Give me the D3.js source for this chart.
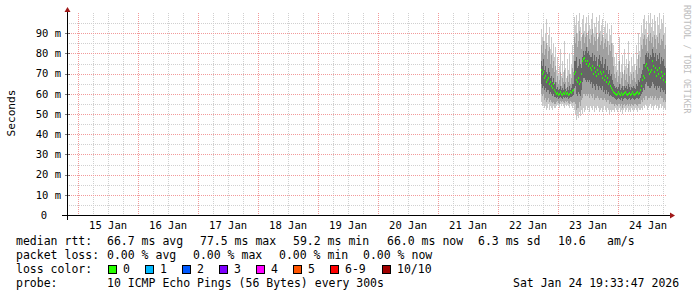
<!DOCTYPE html>
<html>
<head>
<meta charset="utf-8">
<script src="https://cdn.jsdelivr.net/npm/d3@7"></script>
<style>
  html, body { margin: 0; padding: 0; background: #fff; }
  text { font-family: "DejaVu Sans Mono", monospace; }
</style>
</head>
<body>
<div id="chart"></div>
<script>
// one value per 1440 s step (one pixel column); first step is Jan 22 ~16:57
var stepSec = 1440;
var firstStep = Date.UTC(2026, 0, 14, 19, 33, 47) + 474 * stepSec * 1000;

// median rtt (ms)
var medRtt = [
  72, 70, 71, 68, 69, 66, 67, 68, 65, 66, 64, 63, 65, 62, 61,
  60, 60.5, 59.5, 60, 61, 60, 59.5, 60.5, 60, 61, 60, 60.5, 59.5, 60, 61, 60.5, 61.5, 62,
  70, 71, 67, 66, 68, 65, 66, 70, 76, 77, 77.5, 76, 75, 76, 74, 75, 73, 72, 74, 70, 73, 71,
  69, 72, 70, 74, 71, 70, 68, 71, 67, 69, 66, 68, 65, 66, 64, 63, 62,
  61, 60.5, 60, 59.5, 60, 61, 60, 59.5, 60.5, 59.2, 60, 60.5, 61, 60, 59.5, 60, 60.5, 59.5,
  60, 61, 60, 59.5, 60, 60.5, 61, 60, 60.5, 62,
  64, 67, 69, 68, 74, 75, 73, 72, 70, 71, 72, 76, 74, 71, 73, 69, 72, 70, 73, 68, 71, 69, 67, 70, 66];

// smoke: ping spread per step (ms), outer -> inner
var smokeHi = [
  92, 88, 95, 86, 90, 97, 84, 89, 93, 82, 88, 80, 85, 78, 83,
  72, 78, 70, 74, 82, 69, 76, 71, 86, 73, 68, 77, 72, 80, 70, 75, 84, 79,
  98, 94, 99, 90, 96, 100, 93, 88, 97, 99, 91, 95, 98, 89, 99, 94, 92, 97, 100, 90,
  95, 93, 98, 87, 96, 99, 91, 94, 97, 88, 93, 96, 90, 95, 86, 92, 89, 94, 85,
  84, 78, 74, 80, 72, 76, 88, 71, 75, 79, 70, 82, 74, 77, 73, 86, 76, 71, 78, 74,
  80, 75, 72, 84, 77, 90, 81, 88,
  94, 90, 97, 99, 92, 96, 88, 99, 95, 100, 93, 97, 91, 99, 96, 89, 98, 94, 100, 92, 97, 95, 99, 90, 93];
var smokeHi2 = [
  84, 80, 86, 79, 82, 85, 77, 81, 83, 75, 79, 73, 76, 71, 74,
  66, 69, 65, 67, 71, 64, 68, 66, 72, 66, 63, 69, 66, 70, 65, 68, 73, 71,
  88, 85, 90, 83, 86, 91, 86, 82, 89, 90, 85, 88, 90, 83, 91, 87, 85, 89, 92, 84,
  88, 86, 90, 81, 88, 90, 84, 86, 89, 82, 85, 87, 83, 86, 79, 84, 81, 85, 78,
  74, 70, 68, 71, 66, 69, 76, 65, 68, 71, 64, 72, 67, 70, 66, 75, 69, 65, 70, 67,
  71, 68, 66, 74, 70, 79, 73, 78,
  84, 82, 87, 89, 84, 87, 81, 89, 86, 90, 85, 88, 83, 89, 87, 82, 88, 85, 90, 84, 87, 86, 89, 82, 84];
var smokeQ3 = [
  76, 74, 77, 72, 74, 71, 70, 73, 71, 68, 69, 66, 68, 65, 66,
  62.5, 63.5, 62, 62.5, 64, 62, 63, 62, 65, 62.5, 61.5, 63.5, 62, 64, 62, 63, 65, 65,
  76, 76, 78, 73, 74, 77, 75, 73, 78, 81, 79, 81, 83, 80, 81, 79, 78, 78, 80, 76,
  79, 76, 78, 74, 77, 79, 76, 75, 78, 73, 75, 77, 72, 74, 70, 72, 69, 70, 67,
  65, 64, 63, 63.5, 62.5, 63.5, 65, 62, 63, 64, 62, 64, 63, 64, 62.5, 65, 63.5, 62, 63.5, 63,
  64, 63, 62.5, 65, 64, 67, 66, 68,
  70, 72, 75, 75, 79, 80, 78, 80, 77, 79, 78, 82, 80, 78, 80, 76, 79, 77, 80, 75, 78, 76, 77, 74, 73];
var smokeQ1 = [
  65, 63, 64, 62, 63, 61, 62, 62, 60, 61, 60, 59, 60, 58.5, 58.5,
  58, 58.5, 57.5, 58, 58.5, 58, 57.5, 58.5, 58, 58.5, 58, 58.5, 57.5, 58, 58.5, 58.5, 59, 59.5,
  63, 64, 60, 59, 61, 60, 59, 62, 66, 68, 68, 67, 66, 67, 66, 67, 65, 66, 63, 65,
  64, 62, 65, 64, 62, 64, 63, 62, 64, 61, 62, 60, 62, 60, 61, 59, 59.5, 59, 58.5,
  58.5, 58, 57.5, 57, 57.5, 58, 57.5, 57, 58, 56.5, 57.5, 58, 58, 57.5, 57, 57.5, 58, 57, 57.5, 58,
  57.5, 57, 57.5, 58, 58, 57.5, 58, 59,
  60, 61, 63, 62, 65, 66, 64, 64, 63, 63, 64, 66, 65, 63, 64, 62, 64, 63, 64, 61, 63, 62, 61, 62, 60];
var smokeLo2 = [
  60, 59, 60, 57, 58, 56, 57, 58, 56, 57, 56, 55.5, 56, 55, 55,
  56, 56.5, 55.5, 55, 56.5, 56, 56.5, 56, 55.5, 56.5, 56, 56.5, 55.5, 55, 56.5, 56, 55.5, 56,
  56, 55, 52, 53, 53, 56, 54, 57, 58, 60, 60, 59, 60, 59, 60, 58, 60, 59, 58, 60,
  57, 58, 58, 59, 58, 57, 58, 58, 57, 57, 58, 57, 56, 57, 57, 55, 56, 55, 55,
  55, 54, 55, 54.5, 54, 55, 55, 54, 55, 53, 54.5, 55, 54, 54.5, 55, 54, 55, 54, 55, 54.5,
  54, 55, 55, 54.5, 54, 55, 55, 55,
  57, 56, 58, 57, 59, 59, 57, 58, 58, 59, 58, 59, 57, 58, 59, 57, 58, 57, 58, 59, 58, 58, 56, 57, 56];
var smokeLo = [
  56, 54, 55, 53, 54, 52, 53, 55, 52, 54, 53, 52, 54, 53, 53,
  54, 55, 54, 53, 55, 54, 55, 54, 53, 55, 54, 55, 54, 53, 55, 54, 53, 54,
  52, 50, 47, 49, 48, 51, 49, 52, 50, 53, 51, 52, 54, 52, 53, 51, 54, 53, 52, 54,
  51, 53, 52, 54, 53, 51, 52, 53, 51, 52, 54, 52, 51, 53, 52, 50, 52, 51, 52,
  52, 51, 53, 52, 51, 52, 53, 51, 52, 50, 52, 53, 51, 52, 53, 51, 52, 51, 53, 52,
  51, 52, 53, 52, 51, 53, 52, 52,
  53, 52, 54, 53, 55, 54, 52, 53, 54, 55, 53, 54, 52, 54, 55, 53, 54, 52, 53, 55, 53, 54, 52, 53, 52];

var yTicks = [0, 10, 20, 30, 40, 50, 60, 70, 80, 90];

var statsRtt = ["66.7 ms avg", "77.5 ms max", "59.2 ms min", "66.0 ms now", "6.3 ms sd", "10.6", "am/s"];
var statsLoss = ["0.00 % avg", "0.00 % max", "0.00 % min", "0.00 % now"];
var lossLabels = ["0", "1", "2", "3", "4", "5", "6-9", "10/10"];
var lossColors = ["#26ff00", "#00b8ff", "#0059ff", "#7e00ff", "#ff00ff", "#ff5500", "#ff0000", "#a10000"];
var probeText = "10 ICMP Echo Pings (56 Bytes) every 300s";
var stampText = "Sat Jan 24 19:33:47 2026";

var width = 697, height = 297;
var t0 = new Date(Date.UTC(2026, 0, 14, 19, 33, 47)),
  t1 = new Date(Date.UTC(2026, 0, 24, 19, 33, 47));
var step = stepSec * 1000;

var svg = d3.select("#chart").append("svg")
  .attr("width", width)
  .attr("height", height)
  .style("display", "block");

svg.append("rect").attr("width", width).attr("height", height).attr("fill", "#fff");

var x = d3.scaleUtc().domain([t0, t1]).range([67, 667]);
var y = d3.scaleLinear().domain([0, 100]).range([215, 13]);

// grid
var grid = svg.append("g").attr("shape-rendering", "crispEdges");

var minorY = y.ticks(20).filter(function(d) { return d % 10 != 0 && d < 100; });
var majorY = y.ticks(10).filter(function(d) { return d > 0 && d < 100; });
var days = d3.utcDay.range(t0, t1);
var sixHours = d3.utcHour.every(6).range(t0, t1).filter(function(d) { return d.getUTCHours() != 0; });

function hline(sel, color) {
  sel.attr("x1", 67).attr("x2", 667)
    .attr("y1", function(d) { return Math.round(y(d)) + 0.5; })
    .attr("y2", function(d) { return Math.round(y(d)) + 0.5; })
    .attr("stroke", color).attr("stroke-dasharray", "1,1");
}
function vline(sel, color) {
  sel.attr("y1", 13).attr("y2", 215)
    .attr("x1", function(d) { return Math.round(x(d)) + 0.5; })
    .attr("x2", function(d) { return Math.round(x(d)) + 0.5; })
    .attr("stroke", color).attr("stroke-dasharray", "1,1");
}

grid.selectAll(".minor-y").data(minorY).enter().append("line").call(hline, "#d0d0d0");
grid.selectAll(".minor-x").data(sixHours).enter().append("line").call(vline, "#d0d0d0");
grid.selectAll(".major-y").data(majorY).enter().append("line").call(hline, "#f29a9a");
grid.selectAll(".major-x").data(days).enter().append("line").call(vline, "#f29a9a");

// smoke + median
var cols = medRtt.map(function(m, i) {
  return {
    t: new Date(firstStep + i * step),
    med: m, lo: smokeLo[i], lo2: smokeLo2[i], q1: smokeQ1[i],
    q3: smokeQ3[i], hi2: smokeHi2[i], hi: smokeHi[i]
  };
});

function colX(d) { return x(d.t); }
function colW(d) { return x(new Date(+d.t + step)) - x(d.t); }

var bands = [["lo", "hi", "#c9c9c9"], ["lo2", "hi2", "#a0a0a0"], ["q1", "q3", "#666666"]];
bands.forEach(function(b) {
  svg.append("g").attr("shape-rendering", "crispEdges")
    .selectAll("rect").data(cols).enter().append("rect")
    .attr("x", colX)
    .attr("width", colW)
    .attr("y", function(d) { return y(d[b[1]]); })
    .attr("height", function(d) { return y(d[b[0]]) - y(d[b[1]]); })
    .attr("fill", b[2]);
});

svg.append("g").attr("shape-rendering", "crispEdges")
  .selectAll("rect").data(cols).enter().append("rect")
  .attr("x", colX)
  .attr("width", colW)
  .attr("y", function(d) { return Math.round(y(d.med)) - 1; })
  .attr("height", 2)
  .attr("fill", lossColors[0]);

// axes
svg.append("line").attr("x1", 62).attr("x2", 670).attr("y1", 215.5).attr("y2", 215.5)
  .attr("stroke", "#000").attr("shape-rendering", "crispEdges");
svg.append("line").attr("x1", 67.5).attr("x2", 67.5).attr("y1", 220).attr("y2", 12)
  .attr("stroke", "#000").attr("shape-rendering", "crispEdges");
svg.append("path").attr("d", "M670,212.5L675,215.5L670,218.5Z").attr("fill", "#a01818");
svg.append("path").attr("d", "M64.5,12L67.5,7L70.5,12Z").attr("fill", "#a01818");

svg.append("g").selectAll("line").data(majorY).enter().append("line")
  .attr("x1", 65).attr("x2", 70)
  .attr("y1", function(d) { return Math.round(y(d)) + 0.5; })
  .attr("y2", function(d) { return Math.round(y(d)) + 0.5; })
  .attr("stroke", "#000").attr("stroke-width", 0.5);

svg.append("g").selectAll("text").data(yTicks).enter().append("text")
  .attr("x", function(d) { return d == 0 ? 47 : 61; })
  .attr("y", function(d) { return y(d) + 3.8; })
  .attr("text-anchor", "end")
  .attr("font-size", "10.5px")
  .attr("fill", "#000")
  .text(function(d) { return d == 0 ? "0" : d + " m"; });

var noons = days.map(function(d) { return d3.utcHour.offset(d, 12); })
  .filter(function(d) { return d < t1; });
svg.append("g").selectAll("text").data(noons).enter().append("text")
  .attr("x", function(d) { return x(d); })
  .attr("y", 228.5)
  .attr("text-anchor", "middle")
  .attr("font-size", "10.5px")
  .attr("fill", "#000")
  .text(d3.utcFormat("%d Jan"));

svg.append("text")
  .attr("transform", "translate(15,113) rotate(-90)")
  .attr("text-anchor", "middle")
  .attr("font-size", "11.2px")
  .attr("fill", "#000")
  .text("Seconds");

svg.append("text")
  .attr("transform", "translate(684,5) rotate(90)")
  .attr("font-size", "8.2px")
  .attr("fill", "#bdbdbd")
  .text("RRDTOOL / TOBI OETIKER");

// legend
var legend = svg.append("g").attr("font-size", "11.5px").attr("fill", "#000");

function put(txt, lx, ly) {
  legend.append("text").attr("x", lx).attr("y", ly).attr("xml:space", "preserve").text(txt);
}

put("median rtt:", 16, 245);
[107, 200, 293, 387, 478, 558, 607].forEach(function(px, i) { put(statsRtt[i], px, 245); });

put("packet loss:", 16, 259);
[107, 193, 279, 363].forEach(function(px, i) { put(statsLoss[i], px, 259); });

put("loss color:", 16, 273);
var sqX = [108, 145, 182, 219, 256, 293, 330, 382];
lossLabels.forEach(function(l, i) {
  legend.append("rect")
    .attr("x", sqX[i] + 0.5).attr("y", 265.5)
    .attr("width", 8).attr("height", 8)
    .attr("fill", lossColors[i])
    .attr("stroke", "#000").attr("stroke-width", 1)
    .attr("shape-rendering", "crispEdges");
  put(l, sqX[i] + 15, 273);
});

put("probe:", 16, 287);
put(probeText, 107, 287);
put(stampText, 513, 287);
</script>
</body>
</html>
